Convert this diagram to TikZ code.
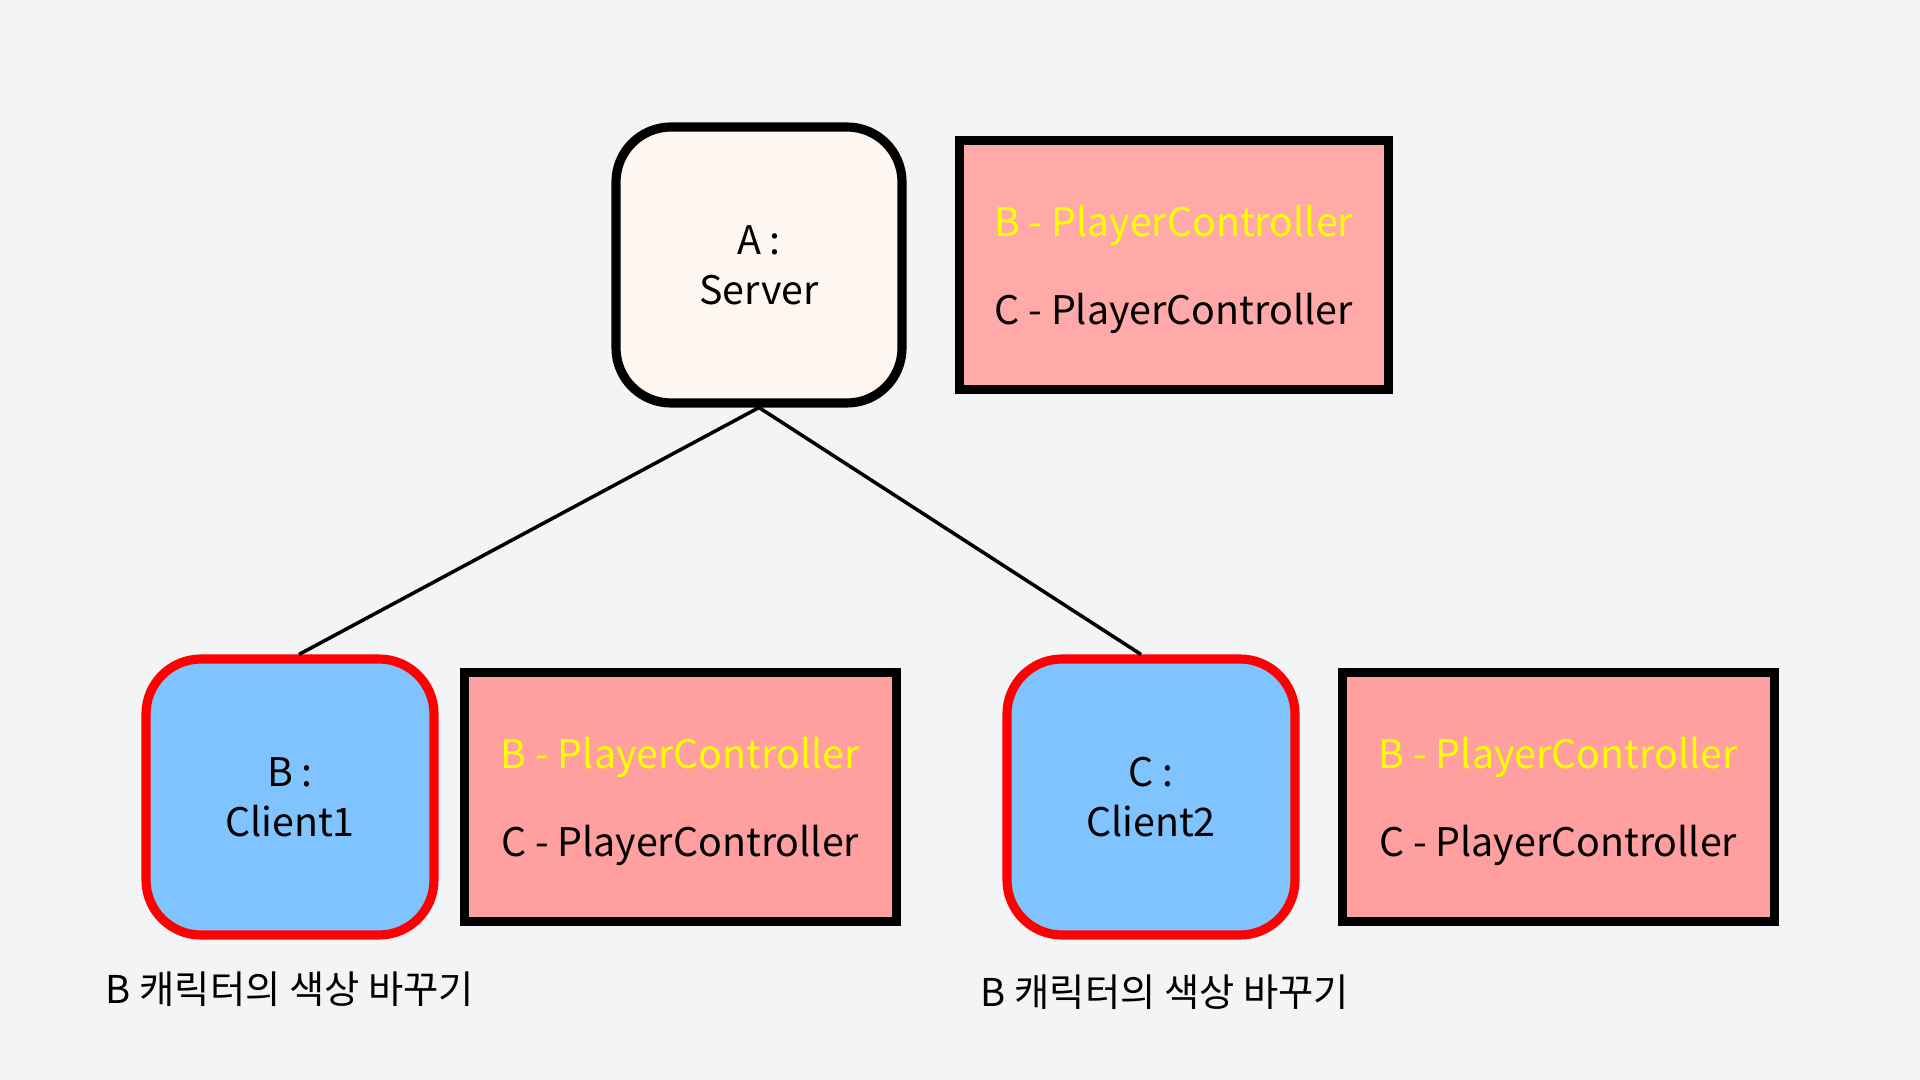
\documentclass[tikz,border=0pt]{standalone}
\usepackage{fontspec}
\setmainfont{Noto Sans CJK KR}
\usetikzlibrary{positioning}
\definecolor{bg}{HTML}{F3F4F6}
\definecolor{srvfill}{HTML}{FEF7F1}
\definecolor{clfill}{HTML}{80C4FF}
\definecolor{pctop}{HTML}{FFA9A9}
\definecolor{pcbot}{HTML}{FF9F9F}
\definecolor{hot}{HTML}{FF0000}
\definecolor{hilite}{HTML}{FFFF00}

\begin{document}
\begin{tikzpicture}[
  txt/.style={font=\fontsize{11.2}{14.2}\selectfont},
  srv/.style={txt,draw=black,fill=srvfill,line width=2.6pt,rounded corners=0.55cm,minimum width=2.86cm,minimum height=2.76cm,align=center},
  cl/.style={srv,draw=hot,fill=clfill,minimum width=2.88cm},
  pc/.style={txt,draw=black,fill=pcbot,line width=2.6pt,minimum width=4.32cm,minimum height=2.49cm,align=center,text depth=0pt},
  ln/.style={line width=1pt}]
  \fill[bg] (0,0) rectangle (19.2,-10.8);
  \useasboundingbox (0,0) rectangle (19.2,-10.8);
  % server side
  \node[srv] (server) at (7.59,-2.65) {A :\\Server};
  \node[pc,fill=pctop,minimum width=4.29cm,right=0.48cm of server] (srvpc) {{\color{hilite}B - PlayerController}\\[10.8pt]C - PlayerController};
  % clients
  \node[cl] (client1) at (2.90,-7.97) {B :\\Client1};
  \node[pc,right=0.21cm of client1] (c1pc) {{\color{hilite}B - PlayerController}\\[10.8pt]C - PlayerController};
  \node[cl] (client2) at (11.51,-7.97) {C :\\Client2};
  \node[pc,right=0.38cm of client2] (c2pc) {{\color{hilite}B - PlayerController}\\[10.8pt]C - PlayerController};
  \node[txt,font=\fontsize{10.9}{14}\selectfont] (note1) at (2.90,-9.89) {B 캐릭터의 색상 바꾸기};
  \node[txt,font=\fontsize{10.9}{14}\selectfont] (note2) at (11.65,-9.92) {B 캐릭터의 색상 바꾸기};
  \draw[ln] (server.south) -- ([xshift=0.09cm]client1.north);
  \draw[ln] (server.south) -- ([xshift=-0.1cm]client2.north);
\end{tikzpicture}
\end{document}
